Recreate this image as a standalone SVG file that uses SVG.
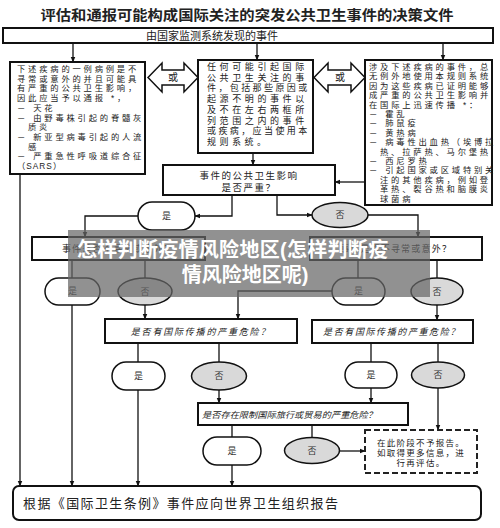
<svg xmlns="http://www.w3.org/2000/svg" width="500" height="528" viewBox="0 0 500 528">
<defs>
<marker id="ah" viewBox="0 0 10 10" refX="9" refY="5" markerWidth="6" markerHeight="6" orient="auto" markerUnits="userSpaceOnUse"><path d="M0,1 L10,5 L0,9 z" fill="#111"/></marker>
</defs>
<style>
.box{fill:#fff;stroke:#111;stroke-width:2}
.dash{fill:#fff;stroke:#222;stroke-width:2;stroke-dasharray:6 3}
.pill{fill:#fff;stroke:#111;stroke-width:1.5}
.no{fill:#d9d9d9;stroke:#111;stroke-width:1.5}
.blk{fill:#fff;stroke:#111;stroke-width:1.5}
.ln{fill:none;stroke:#111;stroke-width:1.3}
.ar{fill:none;stroke:#111;stroke-width:1.3;marker-end:url(#ah)}
.t{font-family:"Liberation Sans","Noto Sans CJK SC",sans-serif;fill:#222}
.s{font-size:8.3px;letter-spacing:2.8px}
.c{text-anchor:middle}
.q{font-size:9px;font-style:italic}
.lb{font-size:9px;text-anchor:middle;fill:#333}
.bn{font-family:"Liberation Sans","Noto Sans CJK SC",sans-serif;font-weight:bold;font-size:20px;fill:#fff}
</style>
<rect x="0" y="0" width="500" height="528" fill="#fff"/>
<g id="title"><text class="t" x="247" y="20" font-size="14" font-weight="bold" text-anchor="middle" textLength="413" lengthAdjust="spacingAndGlyphs">评估和通报可能构成国际关注的突发公共卫生事件的决策文件</text></g>

<g id="connectors">
<path class="ar" d="M73,43 V62"/>
<path class="ar" d="M257,43 V60"/>
<path class="ar" d="M443,43 V60"/>
<path class="ar" d="M253,153 V165"/>
<path class="ar" d="M365,182 H335"/>
<path class="ar" d="M20,174 V486"/>
<path class="ar" d="M232,195 V216 H195"/>
<path class="ar" d="M138,216 H85 V237"/>
<path class="ar" d="M277,195 V215 H312"/>
<path class="ar" d="M368,215 H418 V237"/>
<path class="ln" d="M72,260 V278 M145,260 V278 M358,260 V278 M437,260 V278"/>
<path class="ar" d="M72,305 V486"/>
<path class="ar" d="M145,305 V319"/>
<path class="ar" d="M332,291 H238 V319"/>
<path class="ar" d="M437,305 V320"/>
<path class="ln" d="M138,343 V362 M219,343 V362 M371,343 V362 M438,343 V362"/>
<path class="ar" d="M138,390 V486"/>
<path class="ar" d="M219,390 V403"/>
<path class="ar" d="M371,388 V403"/>
<path class="ar" d="M438,388 V430"/>
<path class="ln" d="M232,425 V437 M312,425 V437"/>
<path class="ar" d="M232,465 V486"/>
<path class="ar" d="M340,451 H365"/>
</g>

<g id="n-top"><rect class="box" x="3" y="28" width="490" height="15"/><text class="t c" x="212" y="40" font-size="11">由国家监测系统发现的事件</text></g>

<g id="n-left">
<rect class="box" x="10" y="62" width="135" height="112"/>
<text class="t s"><tspan x="17" y="72">下述疾病的一例病例是不</tspan><tspan x="17" y="81.7">寻常或意外的并且可能具</tspan><tspan x="17" y="91.4">有严重的公共卫生影响，</tspan><tspan x="17" y="101.1">因此应当予以通报 *，</tspan><tspan x="17" y="110.8">－ 天花</tspan><tspan x="17" y="120.5">－ 由野毒株引起的脊髓灰</tspan><tspan x="28" y="130.2">质炎</tspan><tspan x="17" y="139.9">－ 新亚型病毒引起的人流</tspan><tspan x="28" y="149.6">感</tspan><tspan x="17" y="159.3">－ 严重急性呼吸道综合征</tspan><tspan x="17" y="169" letter-spacing="1">（SARS）</tspan></text>
</g>

<g id="n-or1"><polygon class="blk" points="148,77.5 162,63 162,70 184,70 184,63 198,77.5 184,92 184,85 162,85 162,92"/><text class="t c" x="173" y="81" font-size="10">或</text></g>

<g id="n-mid">
<rect class="box" x="198" y="60" width="115" height="93"/>
<text class="t" font-size="9"><tspan x="207" y="70" letter-spacing="3.6">任何可能引起国际</tspan><tspan x="207" y="80.7" letter-spacing="3.6">公共卫生关注的事</tspan><tspan x="207" y="91.4" letter-spacing="2.4">件，包括那些原因或</tspan><tspan x="207" y="102.1" letter-spacing="3.6">起源不明的事件以</tspan><tspan x="207" y="112.8" letter-spacing="3.6">及不在左右两框所</tspan><tspan x="207" y="123.5" letter-spacing="3.6">列范围之内的事件</tspan><tspan x="207" y="134.2" letter-spacing="2.4">或疾病，应当使用本</tspan><tspan x="207" y="144.9" letter-spacing="3.5">规则系统。</tspan></text>
</g>

<g id="n-or2"><polygon class="blk" points="314,77.5 328,63 328,70 351,70 351,63 365,77.5 351,92 351,85 328,85 328,92"/><text class="t c" x="340" y="81" font-size="10">或</text></g>

<g id="n-right">
<rect class="box" x="365" y="60" width="127" height="145"/>
<text class="t s" letter-spacing="2.5"><tspan x="369" y="70">涉及下述疾病的事件，总</tspan><tspan x="369" y="79.4">无例外地使用本规则系统</tspan><tspan x="369" y="88.8">因为这些疾病已证明能够</tspan><tspan x="369" y="98.2">成严重的公共卫生影响并</tspan><tspan x="369" y="107.6">在国际上迅速传播 *：</tspan><tspan x="369" y="117">－ 霍乱</tspan><tspan x="369" y="126.4">－ 肺鼠疫</tspan><tspan x="369" y="135.8">－ 黄热病</tspan><tspan x="369" y="145.2">－ 病毒性出血热（埃博拉</tspan><tspan x="380" y="154.6">热、拉萨热、马尔堡热</tspan><tspan x="369" y="164">－ 西尼罗热</tspan><tspan x="369" y="173.4">－ 引起国家或区域特别关</tspan><tspan x="380" y="182.8">注的其他疾病，例如登</tspan><tspan x="380" y="192.2">革热、裂谷热和脑膜炎</tspan><tspan x="380" y="201.6">球菌病</tspan></text>
</g>

<g id="n-serious">
<rect class="box" x="163" y="165" width="172" height="30"/>
<text class="t c" font-size="9.5" letter-spacing="1.5"><tspan x="249" y="179">事件的公共卫生影响</tspan><tspan x="249" y="191">是否严重？</tspan></text>
</g>
<g id="n-yes1"><rect class="pill" x="138" y="202" width="57" height="28" rx="14"/><text class="t lb" x="166.5" y="219">是</text></g>
<g id="n-no1"><ellipse class="no" cx="340" cy="215" rx="28" ry="12.5"/><text class="t lb" x="340" y="218">否</text></g>

<g id="n-unusual-l"><rect class="box" x="32" y="237" width="173" height="23"/><text class="t c" x="118" y="252" font-size="9" letter-spacing="1.2">事件是否不寻常或意外？</text></g>
<g id="n-unusual-r"><rect class="box" x="310" y="237" width="172" height="23"/><text class="t c" x="396" y="252" font-size="9" letter-spacing="1.2">事件是否不寻常或意外？</text></g>
<g id="n-yes2l"><rect class="pill" x="45" y="278" width="55" height="27" rx="13.5"/><text class="t lb" x="72.5" y="294">是</text></g>
<g id="n-no2l"><ellipse class="no" cx="145" cy="291.5" rx="27" ry="13.5"/><text class="t lb" x="145" y="294.5">否</text></g>
<g id="n-yes2r"><rect class="pill" x="332" y="278" width="53" height="27" rx="13.5"/><text class="t lb" x="358.5" y="294">是</text></g>
<g id="n-no2r"><ellipse class="no" cx="437" cy="291.5" rx="26" ry="13.5"/><text class="t lb" x="437" y="294.5">否</text></g>

<g id="n-spread-l"><rect class="box" x="105" y="319" width="192" height="24"/><text class="t q c" x="201" y="334.5" letter-spacing="1.8">是否有国际传播的严重危险？</text></g>
<g id="n-spread-r"><rect class="box" x="312" y="320" width="161" height="23"/><text class="t q c" x="392" y="335" letter-spacing="1.6">是否有国际传播的严重危险？</text></g>
<g id="n-yes3l"><rect class="pill" x="112" y="362" width="53" height="28" rx="14"/><text class="t lb" x="138.5" y="379">是</text></g>
<g id="n-no3l"><ellipse class="no" cx="219" cy="376" rx="27.5" ry="14"/><text class="t lb" x="219" y="379">否</text></g>
<g id="n-yes3r"><rect class="pill" x="345" y="362" width="52" height="26" rx="13"/><text class="t lb" x="371" y="378">是</text></g>
<g id="n-no3r"><ellipse class="no" cx="438" cy="375" rx="26.5" ry="13"/><text class="t lb" x="438" y="378">否</text></g>

<g id="n-travel"><rect class="box" x="198" y="403" width="210" height="22"/><text class="t" x="202" y="417.5" font-size="8.5" font-style="italic" textLength="175" lengthAdjust="spacingAndGlyphs">是否存在限制国际旅行或贸易的严重危险？</text></g>
<g id="n-yes4"><rect class="pill" x="203" y="437" width="58" height="28" rx="14"/><text class="t lb" x="232" y="454">是</text></g>
<g id="n-no4"><ellipse class="no" cx="312" cy="450.5" rx="27.5" ry="13"/><text class="t lb" x="312" y="453.5">否</text></g>

<g id="n-notreport">
<rect class="dash" x="365" y="430" width="112" height="43"/>
<text class="t c" font-size="8.5" letter-spacing="1.3"><tspan x="421" y="446">在此阶段不予报告。</tspan><tspan x="421" y="456">如取得更多信息，进</tspan><tspan x="421" y="466">行再评估。</tspan></text>
</g>

<g id="n-report"><rect class="box" x="13" y="486" width="468" height="34" rx="6"/><text class="t" x="23" y="508" font-size="13" textLength="315" lengthAdjust="spacing">根据《国际卫生条例》事件应向世界卫生组织报告</text></g>

<g id="banner">
<rect x="68" y="230" width="362" height="67" fill="#666" opacity="0.72"/>
<text class="bn"><tspan x="77" y="257" letter-spacing="0.3">怎样判断疫情风险地区(怎样判断疫</tspan><tspan x="245" y="282" text-anchor="middle">情风险地区呢)</tspan></text>
</g>
</svg>
